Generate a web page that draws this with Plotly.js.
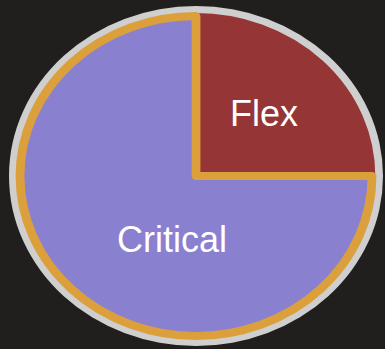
<!DOCTYPE html>
<html><head><meta charset="utf-8">
<script src="https://cdn.plot.ly/plotly-3.0.1.min.js"></script>
<style>
html,body{margin:0;padding:0;background:#211f1e;width:385px;height:349px;overflow:hidden;}
#pie{position:absolute;left:26px;top:6px;width:340px;height:340px;transform:scaleX(1.1);transform-origin:50% 50%;}
#labels{position:absolute;left:0;top:0;width:385px;height:349px;pointer-events:none;}
</style></head><body>
<div id="pie"></div><div id="labels"></div>
<script>
const categories = ['Flex', 'Critical'];
const values = [25, 75];
const sliceColors = ['#963535', '#8a80d0'];
const borderColors = ['#963535', '#dba03b'];
const borderWidths = [6, 8];

Plotly.newPlot('pie', [{
  type: 'pie',
  labels: categories,
  values: values,
  sort: false,
  direction: 'clockwise',
  rotation: 0,
  textinfo: 'none',
  hoverinfo: 'skip',
  showlegend: false,
  marker: {colors: sliceColors, line: {color: borderColors, width: borderWidths}}
}], {
  width: 340, height: 340,
  margin: {l: 10, r: 10, t: 10, b: 10},
  paper_bgcolor: 'rgba(0,0,0,0)', plot_bgcolor: 'rgba(0,0,0,0)',
  showlegend: false,
  shapes: [{type: 'circle', xref: 'paper', yref: 'paper', layer: 'below',
    x0: -10/320, x1: 1 + 10/320, y0: -10/320, y1: 1 + 10/320,
    fillcolor: '#cfcfcf', line: {width: 0}}]
}, {staticPlot: true});

const labelPos = [[264, 113], [172, 240]];
Plotly.newPlot('labels', [], {
  width: 385, height: 349,
  margin: {l: 0, r: 0, t: 0, b: 0},
  paper_bgcolor: 'rgba(0,0,0,0)', plot_bgcolor: 'rgba(0,0,0,0)',
  xaxis: {visible: false}, yaxis: {visible: false},
  annotations: categories.map((c, i) => ({
    text: c, xref: 'paper', yref: 'paper',
    x: labelPos[i][0] / 385, y: 1 - labelPos[i][1] / 349,
    xanchor: 'center', yanchor: 'middle', showarrow: false,
    font: {family: 'Arial, "Liberation Sans", sans-serif', size: 36, color: '#ffffff'}
  }))
}, {staticPlot: true});
</script>
</body></html>
